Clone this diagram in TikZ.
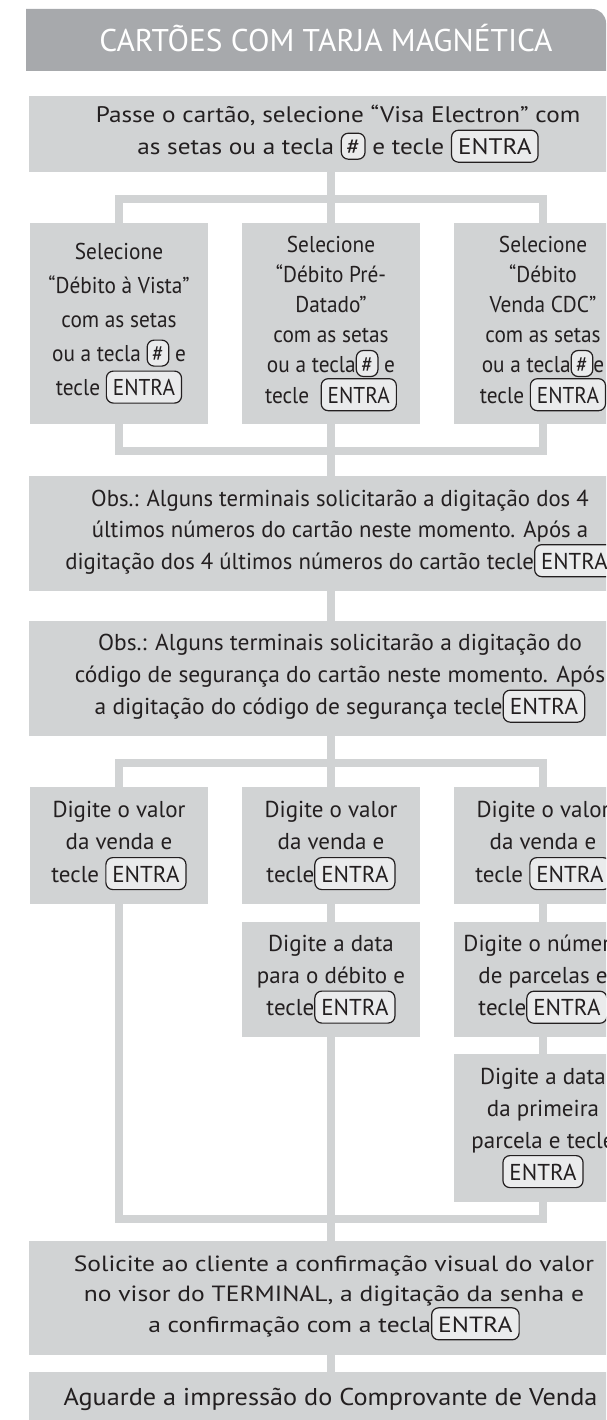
\documentclass[tikz,border=0pt]{standalone}
\usepackage{fontspec}
\setmainfont{PT Sans}
\definecolor{tarja_gray}{RGB}{167, 169, 172}
\definecolor{tarja_light}{RGB}{209, 211, 212}
\definecolor{tarja_key}{RGB}{234, 235, 236}
\definecolor{tarja_ink}{RGB}{35, 31, 32}

\tikzset{
  passo_box/.style={fill=tarja_light, text=tarja_ink, align=center, inner sep=0pt},
  passo_col/.style={passo_box, minimum width=178pt},
  passo_wide/.style={passo_box, minimum width=#1, xshift=#1/2},
  passo_link/.style={draw=tarja_light, line width=8pt, line join=miter},
  passo_key/.style={draw=tarja_ink, fill=tarja_key, line width=1.2pt, rounded corners=7pt,
    inner xsep=6.5pt, inner ysep=7.5pt, minimum width=0pt, minimum height=0pt,
    text height=17pt, text depth=0pt},
  passo_hash/.style={passo_key, inner xsep=5pt, inner ysep=4.5pt},
}
\newcommand{\tecla}[2][passo_key]{\tikz[baseline=(tecla.base)]\node[#1] (tecla) {#2};}
% tamanho, entrelinha, largura
\newcommand{\passofonte}[3]{\fontsize{#1}{#2}\selectfont\addfontfeatures{FakeStretch=#3}}

\begin{document}
\begin{tikzpicture}[x=1pt, y=-1pt]
  \useasboundingbox (0,0) rectangle (606,1420);
  \clip (0,0) rectangle (606,1420);

  % cabecalho
  \fill[tarja_gray] (26,71) -- (26,9) -- (592,9) arc[start angle=-90, end angle=0, radius=14] -- (606,71) -- cycle;
  \node[text=white, font=\passofonte{31.4}{32}{1.0}, anchor=base] (titulo) at (326,52) {CARTÕES COM TARJA MAGNÉTICA};

  % caixas largas: borda esquerda em x=29
  \node[passo_wide=618pt, minimum height=76pt, font=\passofonte{22.5}{32}{1.12}] (passe) at (29,134)
    {Passe o cartão, selecione “Visa Electron” com\\as setas ou a tecla \tecla[passo_hash]{\#} e tecle \tecla{ENTRA}};

  % tipos de debito
  \node[passo_col, minimum height=201pt, font=\passofonte{22.9}{34}{0.93}] (sel1) at (119,323.5)
    {Selecione\\“Débito à Vista”\\com as setas\\ou a tecla \tecla[passo_hash]{\#} e\\tecle \tecla{ENTRA}};
  \node[passo_col, minimum height=201pt, font=\passofonte{22.9}{30}{0.93}] (sel2) at (331,323.5)
    {Selecione\\“Débito Pré-\\Datado”\\com as setas\\ou a tecla\tecla[passo_hash]{\#} e\\tecle\ \ \tecla{ENTRA}};
  \node[passo_col, minimum height=201pt, font=\passofonte{22.9}{30}{0.93}] (sel3) at (543,323.5)
    {Selecione\\“Débito\\Venda CDC”\\com as setas\\ou a tecla\tecla[passo_hash]{\#}e\\tecle \tecla{ENTRA}};

  \node[passo_wide=622pt, minimum height=115pt, font=\passofonte{23}{31.5}{0.99}] (obs1) at (29,533.5)
    {Obs.: Alguns terminais solicitarão a digitação dos 4\\últimos números do cartão neste momento. Após a\\digitação dos 4 últimos números do cartão tecle\tecla{ENTRA}};
  \node[passo_wide=622pt, minimum height=115pt, font=\passofonte{23}{32}{1.02}] (obs2) at (29,678.5)
    {Obs.: Alguns terminais solicitarão a digitação do\\código de segurança do cartão neste momento. Após\\a digitação do código de segurança tecle\tecla{ENTRA}};

  % valor, data e parcelas
  \node[passo_col, minimum height=117pt, font=\passofonte{23}{32.5}{1}] (dig1) at (119,845.5)
    {Digite o valor\\da venda e\\tecle \tecla{ENTRA}};
  \node[passo_col, minimum height=117pt, font=\passofonte{23}{32.5}{1}] (dig2) at (331,845.5)
    {Digite o valor\\da venda e\\tecle\tecla{ENTRA}};
  \node[passo_col, minimum height=117pt, font=\passofonte{23}{32.5}{1}] (dig3) at (543,845.5)
    {Digite o valor\\da venda e\\tecle \tecla{ENTRA}};
  \node[passo_col, minimum height=115pt, font=\passofonte{23}{32}{1}] (data2) at (331,979.5)
    {Digite a data\\para o débito e\\tecle\tecla{ENTRA}};
  \node[passo_col, minimum height=115pt, font=\passofonte{23}{32}{1}] (parc3) at (543,979.5)
    {Digite o número\\de parcelas e\\tecle\tecla{ENTRA}};
  \node[passo_col, minimum height=148pt, font=\passofonte{23}{32}{1}] (prim3) at (543,1128)
    {Digite a data\\da primeira\\parcela e tecle\\\tecla{ENTRA}};

  \node[passo_wide=610pt, minimum height=114pt, font=\passofonte{22}{30.5}{1.16}] (conf) at (29,1298)
    {Solicite ao cliente a confirmação visual do valor\\no visor do TERMINAL, a digitação da senha e\\a confirmação com a tecla\tecla{ENTRA}};
  \node[passo_wide=603pt, anchor=north, inner ysep=5pt, text height=28pt, text depth=60pt, font=\passofonte{24.3}{30}{1.08}] (aguarde) at (29,1372)
    {Aguarde a impressão do Comprovante de Venda};

  % ligacoes
  \coordinate (eixo) at (331,0);
  \coordinate (garfo1) at (331,199);
  \coordinate (garfo2) at (331,450.5);
  \coordinate (garfo3) at (331,763);
  \coordinate (garfo4) at (331,1219);
  \draw[passo_link] (passe.south -| eixo) -- (sel2.north);
  \draw[passo_link] (sel1.north) |- (garfo1) -| (sel3.north);
  \draw[passo_link] (sel1.south) |- (garfo2) -| (sel3.south);
  \draw[passo_link] (sel2.south) -- (obs1.north -| eixo);
  \draw[passo_link] (obs1.south -| eixo) -- (obs2.north -| eixo);
  \draw[passo_link] (obs2.south -| eixo) -- (dig2.north);
  \draw[passo_link] (dig1.north) |- (garfo3) -| (dig3.north);
  \draw[passo_link] (dig2.south) -- (data2.north);
  \draw[passo_link] (dig3.south) -- (parc3.north);
  \draw[passo_link] (parc3.south) -- (prim3.north);
  \draw[passo_link] (dig1.south) |- (garfo4) -| (prim3.south);
  \draw[passo_link] (data2.south) -- (conf.north -| eixo);
  \draw[passo_link] (conf.south -| eixo) -- (aguarde.north -| eixo);
\end{tikzpicture}
\end{document}
